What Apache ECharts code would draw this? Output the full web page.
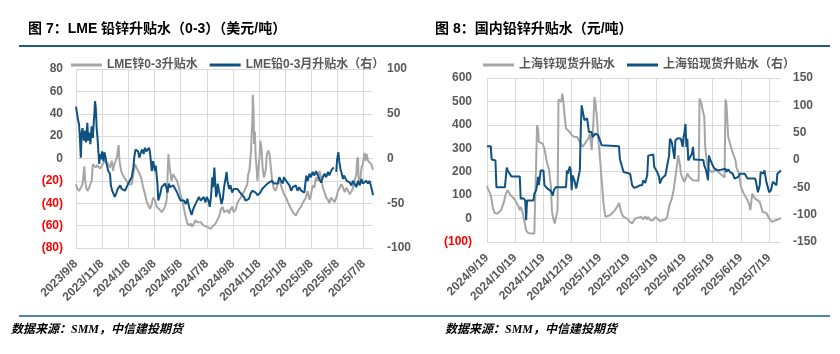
<!DOCTYPE html>
<html><head><meta charset="utf-8">
<script src="https://cdn.jsdelivr.net/npm/echarts@6/dist/echarts.min.js"></script>
<style>html,body{margin:0;padding:0;background:#fff;}#c{width:840px;height:354px;}</style>
</head><body><div id="c"></div>
<script>
// ---------- tick labels ----------
const leftTickLabels = ['2023/9/8','2023/11/8','2024/1/8','2024/3/8','2024/5/8','2024/7/8','2024/9/8','2024/11/8','2025/1/8','2025/3/8','2025/5/8','2025/7/8'];
const rightTickLabels = ['2024/9/19','2024/10/19','2024/11/19','2024/12/19','2025/1/19','2025/2/19','2025/3/19','2025/4/19','2025/5/19','2025/6/19','2025/7/19'];
const leftEnd = '2025/7/30';
const rightEnd = '2025/8/1';

// ---------- LME zinc 0-3 (left axis) ----------
const lmeZincDates = ['2023/9/8','2023/9/11','2023/9/15','2023/9/19','2023/9/23','2023/9/26','2023/9/27','2023/9/29','2023/10/2','2023/10/5','2023/10/8','2023/10/11','2023/10/14','2023/10/17','2023/10/21','2023/10/24','2023/10/27','2023/10/30','2023/11/3','2023/11/7','2023/11/11','2023/11/14','2023/11/18','2023/11/22','2023/11/26','2023/11/30','2023/12/3','2023/12/6','2023/12/9','2023/12/12','2023/12/15','2023/12/16','2023/12/18','2023/12/22','2023/12/25','2023/12/28','2023/12/31','2024/1/4','2024/1/8','2024/1/12','2024/1/16','2024/1/20','2024/1/24','2024/1/28','2024/1/31','2024/2/4','2024/2/8','2024/2/12','2024/2/16','2024/2/20','2024/2/23','2024/2/27','2024/3/1','2024/3/5','2024/3/9','2024/3/13','2024/3/17','2024/3/21','2024/3/25','2024/3/29','2024/4/2','2024/4/6','2024/4/10','2024/4/11','2024/4/13','2024/4/17','2024/4/21','2024/4/25','2024/4/30','2024/5/4','2024/5/8','2024/5/12','2024/5/16','2024/5/20','2024/5/24','2024/5/28','2024/6/1','2024/6/4','2024/6/9','2024/6/12','2024/6/16','2024/6/20','2024/6/24','2024/6/28','2024/7/1','2024/7/5','2024/7/9','2024/7/13','2024/7/17','2024/7/21','2024/7/25','2024/7/29','2024/8/2','2024/8/6','2024/8/10','2024/8/14','2024/8/18','2024/8/22','2024/8/26','2024/8/30','2024/9/2','2024/9/6','2024/9/10','2024/9/14','2024/9/18','2024/9/22','2024/9/26','2024/9/29','2024/10/3','2024/10/7','2024/10/11','2024/10/13','2024/10/16','2024/10/20','2024/10/21','2024/10/23','2024/10/24','2024/10/26','2024/10/27','2024/10/29','2024/10/31','2024/11/2','2024/11/4','2024/11/6','2024/11/9','2024/11/11','2024/11/14','2024/11/16','2024/11/19','2024/11/23','2024/11/26','2024/11/29','2024/12/2','2024/12/5','2024/12/8','2024/12/12','2024/12/16','2024/12/21','2024/12/25','2024/12/29','2025/1/2','2025/1/5','2025/1/10','2025/1/14','2025/1/18','2025/1/22','2025/1/26','2025/1/30','2025/2/2','2025/2/6','2025/2/10','2025/2/14','2025/2/17','2025/2/21','2025/2/24','2025/2/28','2025/3/4','2025/3/7','2025/3/11','2025/3/15','2025/3/19','2025/3/23','2025/3/27','2025/3/31','2025/4/4','2025/4/8','2025/4/12','2025/4/16','2025/4/19','2025/4/23','2025/4/27','2025/5/1','2025/5/5','2025/5/9','2025/5/13','2025/5/17','2025/5/21','2025/5/25','2025/5/29','2025/6/2','2025/6/6','2025/6/10','2025/6/13','2025/6/17','2025/6/21','2025/6/23','2025/6/25','2025/6/26','2025/6/29','2025/7/3','2025/7/6','2025/7/9','2025/7/10','2025/7/12','2025/7/15','2025/7/18','2025/7/22','2025/7/26','2025/7/30'];
const lmeZincValues = [-23,-27,-29,-26,-23,-11,-7,-20,-27,-29,-26,-23,-20,-5,-5,-8,-6,-5,-9,-8,-4,-2,-1,-5,-8,-2,-11,-5,-2,1,10,12,-2,-11,-14,-15,-18,-20,-23,-24,-23,-14,-5,-6,-11,-14,-18,-26,-32,-39,-40,-45,-42,-35,-37,-43,-43,-46,-48,-46,-43,-37,4,5,-8,-20,-14,-17,-20,-26,-33,-37,-45,-52,-58,-60,-58,-61,-58,-55,-57,-58,-57,-58,-60,-60,-61,-61,-63,-61,-60,-58,-57,-52,-46,-43,-48,-49,-46,-49,-46,-43,-48,-46,-40,-37,-35,-32,-30,-29,-23,-14,-11,7,19,33,57,42,13,24,1,-8,-20,-11,1,16,7,-8,-17,-11,4,7,4,-8,-20,-27,-29,-23,-20,-24,-29,-32,-35,-39,-42,-45,-48,-49,-51,-48,-45,-43,-40,-39,-35,-29,-37,-32,-24,-26,-17,-20,-11,-17,-26,-30,-35,-37,-40,-35,-37,-39,-35,-29,-26,-23,-26,-30,-26,-29,-32,-33,-27,-20,-14,-1,1,-17,-23,-8,-5,3,5,-2,4,-2,-1,-5,-10];

// ---------- LME lead 0-3 (right axis) ----------
const lmeLeadDates = ['2023/9/8','2023/9/12','2023/9/15','2023/9/17','2023/9/19','2023/9/21','2023/9/23','2023/9/26','2023/9/29','2023/10/1','2023/10/4','2023/10/6','2023/10/9','2023/10/11','2023/10/14','2023/10/17','2023/10/19','2023/10/21','2023/10/22','2023/10/24','2023/10/26','2023/10/28','2023/10/30','2023/11/1','2023/11/3','2023/11/5','2023/11/8','2023/11/11','2023/11/13','2023/11/16','2023/11/18','2023/11/22','2023/11/26','2023/11/28','2023/12/1','2023/12/4','2023/12/7','2023/12/11','2023/12/14','2023/12/17','2023/12/20','2023/12/23','2023/12/27','2023/12/31','2024/1/4','2024/1/8','2024/1/12','2024/1/16','2024/1/20','2024/1/22','2024/1/25','2024/1/28','2024/1/31','2024/2/3','2024/2/7','2024/2/10','2024/2/13','2024/2/16','2024/2/19','2024/2/22','2024/2/25','2024/2/27','2024/2/29','2024/3/2','2024/3/5','2024/3/9','2024/3/11','2024/3/15','2024/3/17','2024/3/19','2024/3/22','2024/3/25','2024/3/29','2024/4/2','2024/4/5','2024/4/8','2024/4/11','2024/4/14','2024/4/17','2024/4/21','2024/4/25','2024/4/30','2024/5/4','2024/5/8','2024/5/12','2024/5/16','2024/5/20','2024/5/24','2024/5/28','2024/6/1','2024/6/3','2024/6/6','2024/6/9','2024/6/12','2024/6/16','2024/6/20','2024/6/24','2024/6/28','2024/7/1','2024/7/5','2024/7/8','2024/7/12','2024/7/15','2024/7/18','2024/7/21','2024/7/23','2024/7/26','2024/7/27','2024/7/30','2024/8/1','2024/8/3','2024/8/6','2024/8/10','2024/8/12','2024/8/15','2024/8/18','2024/8/22','2024/8/24','2024/8/26','2024/8/30','2024/9/2','2024/9/6','2024/9/10','2024/9/14','2024/9/18','2024/9/22','2024/9/26','2024/9/29','2024/10/3','2024/10/7','2024/10/11','2024/10/15','2024/10/19','2024/10/23','2024/10/27','2024/10/31','2024/11/4','2024/11/8','2024/11/11','2024/11/15','2024/11/19','2024/11/23','2024/11/27','2024/11/30','2024/12/4','2024/12/8','2024/12/12','2024/12/16','2024/12/21','2024/12/25','2024/12/29','2025/1/2','2025/1/5','2025/1/10','2025/1/14','2025/1/18','2025/1/22','2025/1/26','2025/1/30','2025/2/2','2025/2/6','2025/2/10','2025/2/14','2025/2/17','2025/2/21','2025/2/23','2025/2/25','2025/2/28','2025/3/4','2025/3/7','2025/3/11','2025/3/15','2025/3/19','2025/3/23','2025/3/27','2025/3/31','2025/4/4','2025/4/8','2025/4/12','2025/4/16','2025/4/19','2025/4/23','2025/4/27','2025/4/29','2025/5/2','2025/5/5','2025/5/7','2025/5/10','2025/5/12','2025/5/15','2025/5/18','2025/5/21','2025/5/23','2025/5/26','2025/5/30','2025/6/2','2025/6/6','2025/6/10','2025/6/13','2025/6/17','2025/6/21','2025/6/25','2025/6/29','2025/7/3','2025/7/6','2025/7/10','2025/7/14','2025/7/18','2025/7/22','2025/7/26','2025/7/28','2025/7/30'];
const lmeLeadValues = [58,45,38,23,1,29,34,20,31,18,40,20,29,16,36,23,40,53,64,56,34,23,8,-6,5,-1,8,-3,7,1,-6,-14,-17,-30,-36,-38,-43,-38,-34,-36,-30,-34,-32,-36,-34,-28,-30,-21,-10,1,10,10,8,1,7,10,5,12,8,10,12,7,-3,-14,-3,-14,-8,-28,-47,-49,-39,-32,-34,-28,-32,-38,-28,-32,-34,-30,-32,-38,-43,-47,-49,-47,-51,-45,-54,-60,-63,-58,-54,-52,-47,-43,-47,-49,-43,-49,-43,-47,-54,-43,-21,-32,-10,-19,-43,-39,-28,-36,-38,-51,-45,-32,-21,-15,-25,-34,-30,-38,-34,-32,-34,-36,-39,-41,-43,-47,-49,-45,-39,-36,-34,-38,-41,-43,-38,-34,-32,-30,-28,-27,-25,-25,-28,-30,-28,-21,-25,-28,-21,-25,-23,-30,-36,-32,-34,-30,-36,-32,-36,-34,-38,-28,-19,-25,-17,-21,-15,-19,-14,-12,-23,-27,-21,-17,-21,-15,-19,-14,-12,-10,null,-15,-1,7,-3,-12,-17,-23,-19,-21,-25,-23,-27,-30,-25,-28,-32,-25,-30,-23,-28,-27,-25,-28,-25,-27,-36,-41];

// ---------- Shanghai zinc spot (left axis) ----------
const shZincDates = ['2024/9/19','2024/9/20','2024/9/22','2024/9/23','2024/9/25','2024/9/27','2024/9/30','2024/10/4','2024/10/7','2024/10/9','2024/10/11','2024/10/12','2024/10/14','2024/10/18','2024/10/20','2024/10/22','2024/10/24','2024/10/25','2024/10/27','2024/10/29','2024/10/31','2024/11/2','2024/11/5','2024/11/9','2024/11/11','2024/11/12','2024/11/13','2024/11/14','2024/11/18','2024/11/20','2024/11/22','2024/11/23','2024/11/25','2024/11/27','2024/11/28','2024/11/29','2024/12/1','2024/12/2','2024/12/4','2024/12/5','2024/12/7','2024/12/8','2024/12/9','2024/12/10','2024/12/12','2024/12/13','2024/12/15','2024/12/17','2024/12/19','2024/12/22','2024/12/25','2024/12/27','2024/12/29','2024/12/31','2025/1/1','2025/1/5','2025/1/7','2025/1/8','2025/1/10','2025/1/11','2025/1/12','2025/1/13','2025/1/14','2025/1/16','2025/1/17','2025/1/19','2025/1/21','2025/1/23','2025/1/25','2025/1/27','2025/1/30','2025/2/3','2025/2/7','2025/2/9','2025/2/10','2025/2/12','2025/2/14','2025/2/18','2025/2/21','2025/2/23','2025/2/24','2025/2/26','2025/3/1','2025/3/4','2025/3/6','2025/3/8','2025/3/10','2025/3/11','2025/3/13','2025/3/16','2025/3/18','2025/3/23','2025/3/25','2025/3/29','2025/3/31','2025/4/2','2025/4/3','2025/4/5','2025/4/7','2025/4/9','2025/4/11','2025/4/12','2025/4/14','2025/4/15','2025/4/17','2025/4/19','2025/4/21','2025/4/22','2025/4/24','2025/4/28','2025/5/4','2025/5/5','2025/5/7','2025/5/8','2025/5/10','2025/5/11','2025/5/13','2025/5/14','2025/5/15','2025/5/18','2025/5/23','2025/5/27','2025/6/1','2025/6/2','2025/6/3','2025/6/5','2025/6/7','2025/6/9','2025/6/11','2025/6/13','2025/6/14','2025/6/16','2025/6/17','2025/6/19','2025/6/21','2025/6/23','2025/6/25','2025/6/26','2025/6/28','2025/6/29','2025/6/30','2025/7/1','2025/7/3','2025/7/4','2025/7/5','2025/7/9','2025/7/10','2025/7/12','2025/7/16','2025/7/17','2025/7/19','2025/7/22','2025/7/24','2025/7/26','2025/7/28','2025/7/29','2025/8/1'];
const shZincValues = [138,128,121,100,50,24,21,36,71,107,121,118,100,85,71,57,36,50,28,36,-50,-61,-64,-64,-67,398,384,327,320,299,256,235,206,135,36,7,-21,-28,36,508,505,498,533,505,420,384,377,370,356,348,348,334,320,306,313,334,348,363,292,292,420,519,498,420,348,263,164,64,7,0,14,28,50,67,50,21,7,0,-14,-21,-21,0,4,7,-4,10,-4,7,-7,-7,7,-10,-14,-4,7,50,64,85,121,178,235,270,230,192,171,156,178,192,178,164,161,512,491,469,434,306,235,213,220,199,206,192,175,508,491,348,320,292,270,249,220,199,185,135,114,100,92,78,57,36,71,107,107,85,92,71,57,28,24,21,0,-14,-21,-7,0,-4,3];

// ---------- Shanghai lead spot (right axis) ----------
const shLeadDates = ['2024/9/19','2024/9/23','2024/9/24','2024/9/26','2024/9/28','2024/9/29','2024/10/8','2024/10/10','2024/10/11','2024/10/13','2024/10/15','2024/10/24','2024/10/25','2024/10/28','2024/10/30','2024/10/31','2024/11/1','2024/11/8','2024/11/9','2024/11/11','2024/11/12','2024/11/13','2024/11/14','2024/11/16','2024/11/19','2024/11/20','2024/11/23','2024/11/27','2024/11/29','2024/11/30','2024/12/2','2024/12/13','2024/12/14','2024/12/15','2024/12/17','2024/12/18','2024/12/19','2024/12/20','2024/12/22','2024/12/24','2024/12/26','2024/12/28','2024/12/29','2024/12/30','2024/12/31','2025/1/2','2025/1/5','2025/1/6','2025/1/7','2025/1/10','2025/1/11','2025/1/13','2025/1/14','2025/1/17','2025/1/19','2025/1/21','2025/1/23','2025/2/9','2025/2/10','2025/2/11','2025/2/12','2025/2/13','2025/2/14','2025/2/16','2025/2/21','2025/2/23','2025/2/25','2025/2/28','2025/3/3','2025/3/5','2025/3/6','2025/3/8','2025/3/10','2025/3/11','2025/3/16','2025/3/17','2025/3/20','2025/3/22','2025/3/23','2025/3/25','2025/3/29','2025/3/31','2025/4/2','2025/4/3','2025/4/5','2025/4/8','2025/4/9','2025/4/12','2025/4/15','2025/4/17','2025/4/18','2025/4/19','2025/4/20','2025/4/21','2025/4/22','2025/4/23','2025/4/25','2025/4/27','2025/4/28','2025/4/29','2025/5/9','2025/5/10','2025/5/12','2025/5/14','2025/5/15','2025/5/16','2025/5/18','2025/5/19','2025/5/21','2025/5/25','2025/6/2','2025/6/3','2025/6/5','2025/6/7','2025/6/10','2025/6/12','2025/6/16','2025/6/18','2025/6/23','2025/6/25','2025/6/26','2025/7/4','2025/7/5','2025/7/6','2025/7/7','2025/7/9','2025/7/10','2025/7/11','2025/7/13','2025/7/14','2025/7/16','2025/7/17','2025/7/19','2025/7/21','2025/7/23','2025/7/25','2025/7/27','2025/7/28','2025/7/30','2025/8/1'];
const shLeadValues = [25,25,1,1,-1,-50,-50,-14,-19,-25,-30,-30,-71,-70,-74,-110,-74,-74,-62,-55,-46,-31,-46,-19,-19,-46,-52,-57,-65,-56,-50,-50,-19,-25,-12,-19,-55,-28,-37,-52,-49,-19,54,100,97,73,76,76,51,51,42,40,48,46,45,27,25,25,2,-1,-10,-13,-22,-25,-25,-46,-51,-49,-46,-46,-37,-42,-28,8,10,-13,-22,-31,-43,-34,-28,-25,8,39,33,2,36,40,39,24,42,51,66,24,39,-1,2,12,24,1,0,-10,-19,-37,8,2,0,-10,-16,-19,-16,-22,-17,-22,-25,-34,-31,-25,-25,-28,-34,-34,-40,-49,-59,-46,-22,-19,-25,-19,-40,-37,-59,-55,-40,-37,-46,-25,-22,-19];

// ---------- helpers ----------
function monthPos(s, y0, m0, d0) {
  const p = s.split('/').map(Number);
  const t = Date.UTC(p[0], p[1] - 1, p[2]);
  let k = (p[0] - y0) * 12 + (p[1] - m0);
  if (t < Date.UTC(y0, m0 - 1 + k, d0)) k -= 1;
  const a = Date.UTC(y0, m0 - 1 + k, d0), b = Date.UTC(y0, m0 + k, d0);
  return k + (t - a) / (b - a);
}
const posL = s => monthPos(s, 2023, 9, 8);
const posR = s => monthPos(s, 2024, 9, 19);
function pairs(dates, vals, f) { return dates.map((d, i) => [f(d), vals[i] == null ? '-' : vals[i]]); }
const leftTickPos = leftTickLabels.map(posL);
const rightTickPos = rightTickLabels.map(posR);
function tickFmt(posArr, labels) {
  return v => { const i = posArr.findIndex(p => Math.abs(p - v) < 1e-6); return i >= 0 ? labels[i] : ''; };
}

const FONT = '"Liberation Sans", Arial, "Noto Sans CJK SC", sans-serif';
const TXT = '#595959';
const GRID = '#D9D9D9';
const ZINC = '#A6A6A6';
const LEAD = '#0F5282';
const RULE = '#1D5A8A';
const negRich = { neg: { color: '#FF0000', fontWeight: 'bold', fontSize: 12, fontFamily: FONT } };
const negFmt = v => v < 0 ? '{neg|(' + Math.abs(v) + ')}' : String(v);
const lblBase = { color: TXT, fontSize: 12, fontWeight: 'bold', fontFamily: FONT };

function xAxis(gi, tickPos, labels, maxDate, f) {
  return {
    type: 'value', gridIndex: gi, min: 0, max: f(maxDate),
    axisLine: { show: false }, axisTick: { show: false, customValues: tickPos },
    splitLine: { show: true, lineStyle: { color: GRID, width: 1 } },
    axisLabel: Object.assign({ customValues: tickPos, rotate: 45, margin: 14, formatter: tickFmt(tickPos, labels) }, lblBase)
  };
}
function yAxis(gi, min, max, interval, position, split, fmt, margin) {
  return {
    type: 'value', gridIndex: gi, min, max, interval, position,
    axisLine: { show: false }, axisTick: { show: false },
    splitLine: { show: split, lineStyle: { color: GRID, width: 1 } },
    axisLabel: Object.assign({ margin, formatter: fmt, rich: negRich }, lblBase)
  };
}
function lineSeries(name, xi, yi, data, color) {
  return { name, type: 'line', xAxisIndex: xi, yAxisIndex: yi, data, symbol: 'none', showSymbol: false,
    connectNulls: false, lineStyle: { color, width: 2 }, itemStyle: { color }, emphasis: { disabled: true } };
}
const legendBase = { icon: 'rect', itemWidth: 31, itemHeight: 3, itemGap: 12, top: 54,
  textStyle: { color: TXT, fontSize: 12, fontWeight: 'bold', fontFamily: FONT } };

const chart = echarts.init(document.getElementById('c'), null, { renderer: 'canvas' });
chart.setOption({
  animation: false,
  backgroundColor: '#fff',
  grid: [
    { left: 76, top: 69, width: 297, height: 179 },
    { left: 487, top: 78, width: 294, height: 164 }
  ],
  xAxis: [
    xAxis(0, leftTickPos, leftTickLabels, leftEnd, posL),
    xAxis(1, rightTickPos, rightTickLabels, rightEnd, posR)
  ],
  yAxis: [
    yAxis(0, -80, 80, 20, 'left', true, negFmt, 13),
    yAxis(0, -100, 100, 50, 'right', false, v => String(v), 14),
    yAxis(1, -100, 600, 100, 'left', true, negFmt, 15),
    yAxis(1, -150, 150, 50, 'right', false, v => String(v), 12)
  ],
  legend: [
    Object.assign({ left: 66, data: ['LME锌0-3升贴水', 'LME铅0-3月升贴水（右）'] }, legendBase),
    Object.assign({ left: 478, data: ['上海锌现货升贴水', '上海铅现货升贴水（右）'] }, legendBase)
  ],
  series: [
    lineSeries('LME锌0-3升贴水', 0, 0, pairs(lmeZincDates, lmeZincValues, posL), ZINC),
    lineSeries('LME铅0-3月升贴水（右）', 0, 1, pairs(lmeLeadDates, lmeLeadValues, posL), LEAD),
    lineSeries('上海锌现货升贴水', 1, 2, pairs(shZincDates, shZincValues, posR), ZINC),
    lineSeries('上海铅现货升贴水（右）', 1, 3, pairs(shLeadDates, shLeadValues, posR), LEAD)
  ],
  graphic: [
    { type: 'text', left: 28, top: 22, style: { text: '图 7：LME 铅锌升贴水（0-3）（美元/吨）', font: 'bold 14px ' + FONT, fill: '#000' } },
    { type: 'text', left: 435, top: 22, style: { text: '图 8：国内铅锌升贴水（元/吨）', font: 'bold 14px ' + FONT, fill: '#000' } },
    { type: 'line', shape: { x1: 19, y1: 46, x2: 830, y2: 46 }, style: { stroke: RULE, lineWidth: 2 } },
    { type: 'line', shape: { x1: 19, y1: 316, x2: 830, y2: 316 }, style: { stroke: RULE, lineWidth: 1.5 } },
    { type: 'text', left: 11, top: 324, style: { text: '数据来源：SMM，中信建投期货', font: 'italic bold 12px "Liberation Serif", "Noto Sans CJK SC", serif', fill: '#000' } },
    { type: 'text', left: 445, top: 324, style: { text: '数据来源：SMM，中信建投期货', font: 'italic bold 12px "Liberation Serif", "Noto Sans CJK SC", serif', fill: '#000' } }
  ]
});
</script>
</body></html>
